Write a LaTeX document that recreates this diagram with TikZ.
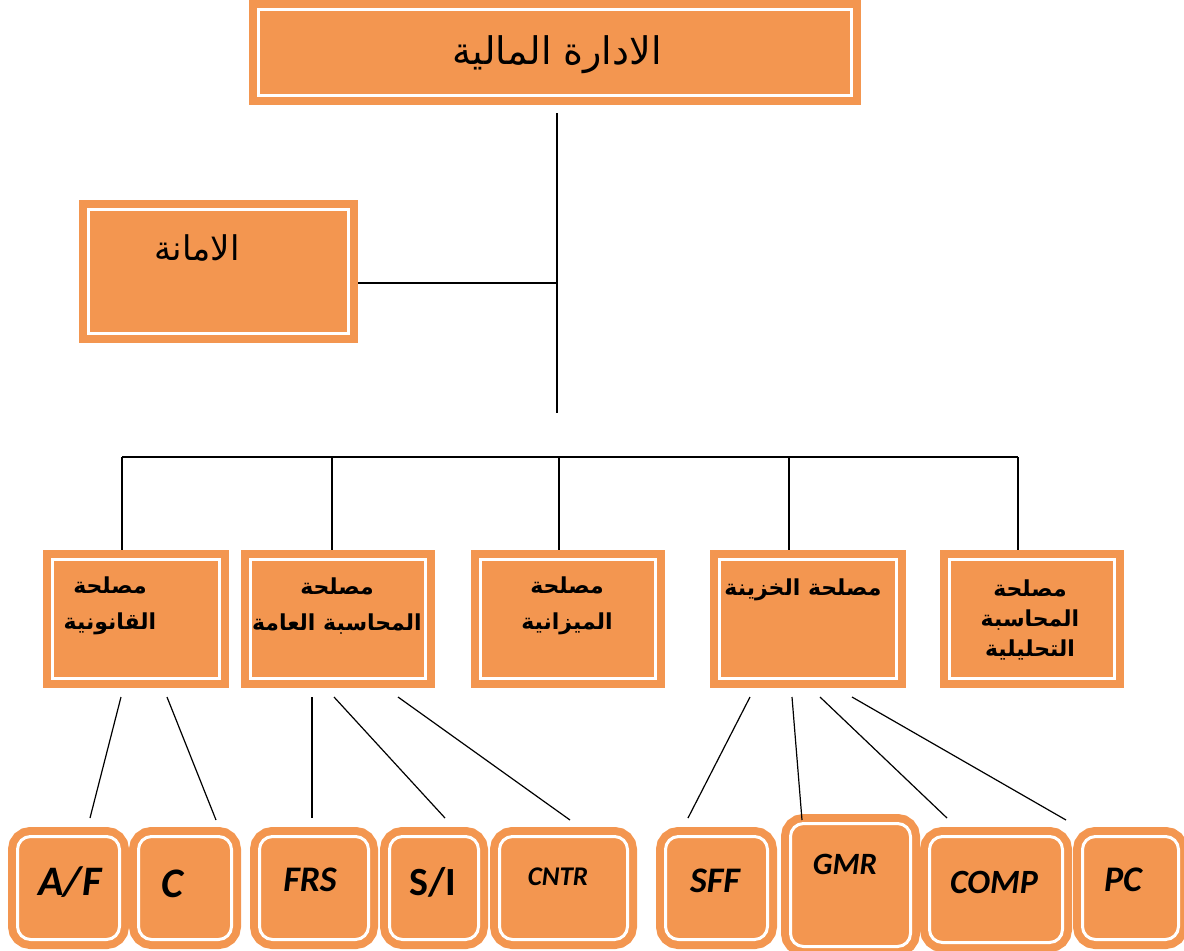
\documentclass[tikz,border=0pt]{standalone}
\usepackage{fontspec}
\usepackage{tikz}
\usetikzlibrary{positioning}
\newfontfamily\arabicfont[Script=Arabic]{DejaVu Sans}
\newfontfamily\latinfont{Carlito}
\TeXXeTstate=1
\definecolor{boxorange}{RGB}{243,150,80}
\tikzset{
	orgbox/.style={fill=boxorange,draw=boxorange,double=white,double distance=1.5pt,line width=4pt,outer sep=4.75pt,inner sep=0pt},
	unitbox/.style={orgbox,rounded corners=6.5pt,minimum height=51.5pt},
	link/.style={black,line width=0.6pt},
	artext/.style={font=\arabicfont\bfseries\fontsize{11}{18}\selectfont,inner sep=0pt,align=center},
	code/.style={font=\latinfont\bfseries\itshape\fontsize{#1}{#1}\selectfont,inner sep=0pt}
}

\begin{document}
\begin{tikzpicture}[x=0.5pt,y=-0.5pt]
		\useasboundingbox (0,0) rectangle (1184,950);

		\node[orgbox,minimum width=296.5pt,minimum height=43pt] (admin) at (555,52.5) {};
		\node[inner sep=0pt,font=\arabicfont\fontsize{19}{21}\selectfont] (admintext) at (557,55) {\beginR الادارة المالية\endR};

		\node[orgbox,minimum width=130pt,minimum height=62pt] (amana) at (218.5,271.5) {};
		\node[inner sep=0pt,font=\arabicfont\fontsize{17}{19}\selectfont] (amanatext) at (197,248) {\beginR الامانة\endR};

		\node[orgbox,minimum width=83.5pt,minimum height=59.5pt] (d1) at (136,619) {};
		\node[orgbox,minimum width=87.5pt,minimum height=59.5pt] (d2) at (338,619) {};
		\node[orgbox,minimum width=87.5pt,minimum height=59.5pt] (d3) at (568,619) {};
		\node[orgbox,minimum width=88.5pt,minimum height=59.5pt] (d4) at (808,619) {};
		\node[orgbox,minimum width=82.5pt,minimum height=59.5pt] (d5) at (1032,619) {};

		\node[artext] (d1text) at (110,606) {\beginR مصلحة\endR\\\beginR القانونية\endR};
		\node[artext] (d2text) at (337,606) {\beginR مصلحة\endR\\\beginR المحاسبة العامة\endR};
		\node[artext] (d3text) at (567,606) {\beginR مصلحة\endR\\\beginR الميزانية\endR};
		\node[artext] (d4text) at (803,590) {\beginR مصلحة الخزينة\endR};
		\node[artext,font=\arabicfont\bfseries\fontsize{11}{15}\selectfont] (d5text) at (1030,620) {\beginR مصلحة\endR\\\beginR المحاسبة\endR\\\beginR التحليلية\endR};

		\node[unitbox,minimum width=51pt] (af) at (68.5,888) {};
		\node[unitbox,minimum width=46.5pt] (c) at (185,888) {};
		\node[unitbox,minimum width=54.5pt] (frs) at (314,888) {};
		\node[unitbox,minimum width=44.5pt] (si) at (434,888) {};
		\node[unitbox,minimum width=64pt] (cntr) at (563.5,888) {};
		\node[unitbox,minimum width=51pt] (sff) at (716.5,888) {};
		\node[unitbox,minimum width=60pt,minimum height=61.5pt] (gmr) at (850.5,885) {};
		\node[unitbox,minimum width=66.5pt,minimum height=53pt] (comp) at (996,889.5) {};
		\node[unitbox,minimum width=48pt] (pc) at (1130.5,888) {};

		\node[code=21] (aftext) at (70,882) {A/F};
		\node[code=21] (ctext) at (172,884) {C};
		\node[code=18] (frstext) at (310,880) {FRS};
		\node[inner sep=0pt,font=\latinfont\bfseries\fontsize{20}{20}\selectfont] (sitext) at (433,882) {S/I};
		\node[code=13.5] (cntrtext) at (558,877) {CNTR};
		\node[code=18] (sfftext) at (715,881) {SFF};
		\node[code=15.5] (gmrtext) at (845,864) {GMR};
		\node[code=17] (comptext) at (994,882) {COMP};
		\node[code=18] (pctext) at (1123,880) {PC};

		\coordinate (trunkend) at (557,413);
		\coordinate (join) at (557,283);
		\draw[link] ([xshift=1pt,yshift=-4pt]admin.south) -- (trunkend);
		\draw[link] (amana.east |- join) -- (join);

		\coordinate (bus1) at (122,457);
		\coordinate (bus2) at (332,457);
		\coordinate (bus3) at (559,457);
		\coordinate (bus4) at (789,457);
		\coordinate (bus5) at (1018,457);
		\draw[link] (bus1) -- (bus5);
		\foreach \i in {1,...,5}
			\draw[link] (bus\i) -- (bus\i |- d\i.north);

		\foreach \a/\sa/\b/\sb/\e in {d1/-7.5/af/10.75/4.5, d1/15.5/c/15.5/3.5, d2/-13/frs/-1/4.5, d2/-2/si/5.5/4.5, d2/30/cntr/3.25/3.5, d4/-29/sff/-14.25/4.5, d4/-8/gmr/-24.25/-3, d4/6/comp/-24.5/4.5, d4/22/pc/-32.25/3.5}
			\draw[link] ([xshift=\sa pt,yshift=-4.5pt]\a.south) -- ([xshift=\sb pt,yshift=\e pt]\b.north);
	\end{tikzpicture}
\end{document}
